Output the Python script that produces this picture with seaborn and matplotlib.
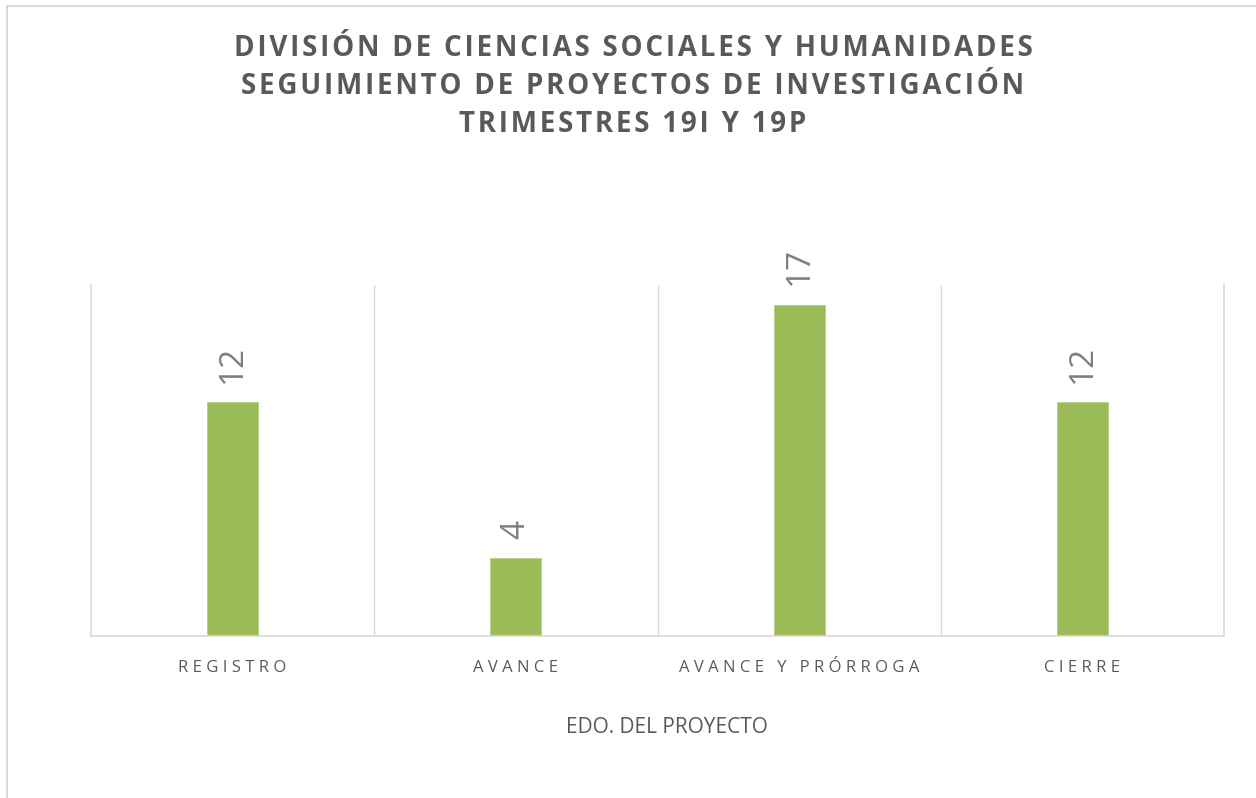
import matplotlib

matplotlib.use("Agg")

import matplotlib.pyplot as plt
import seaborn as sns
import pandas as pd
from matplotlib.patches import Rectangle


# datos
categorias = ["REGISTRO", "AVANCE", "AVANCE Y PRÓRROGA", "CIERRE"]
proyectos = [12, 4, 17, 12]
titulo = [
    "DIVISIÓN DE CIENCIAS SOCIALES Y HUMANIDADES",
    "SEGUIMIENTO DE PROYECTOS DE INVESTIGACIÓN",
    "TRIMESTRES 19I Y 19P",
]
eje_x = "EDO. DEL PROYECTO"

VERDE = "#9BBB59"
GRIS_TXT = "#595959"
GRIS_LINEA = "#d9d9d9"


def espaciar(texto, sep=" ", sep_palabra="   "):
    # simula el espaciado entre letras del original
    return sep_palabra.join(sep.join(p) for p in texto.split(" "))


def main():
    sns.set_theme(style="white")
    plt.rcParams["font.family"] = ["Open Sans", "DejaVu Sans"]

    df = pd.DataFrame({"estado": categorias, "n": proyectos})

    fig = plt.figure(figsize=(12.56, 7.98), dpi=100)
    ax = fig.add_axes([91 / 1256, 162 / 798, 1133 / 1256, 351 / 798])

    sns.barplot(data=df, x="estado", y="n", color=VERDE, width=0.18,
                saturation=1, edgecolor="#b5cf85", linewidth=0.6, ax=ax)

    ax.set_ylim(0, 18)
    ax.set_xlim(-0.5, len(categorias) - 0.5)
    ax.set_yticks([])

    # líneas verticales entre categorías
    ax.set_xticks([i + 0.5 for i in range(len(categorias) - 1)], minor=True)
    ax.grid(which="minor", axis="x", color=GRIS_LINEA, linewidth=1)
    ax.tick_params(axis="x", which="both", length=0, pad=17)

    ax.set_xticks(range(len(categorias)))
    ax.set_xticklabels([espaciar(c) for c in categorias], fontsize=12, color=GRIS_TXT)
    ax.set_xlabel(eje_x, fontsize=15, color=GRIS_TXT, labelpad=30)
    ax.xaxis.label.set_x((667 - 91) / 1133)
    ax.set_ylabel("")

    ax.spines["top"].set_visible(False)
    for s in ["left", "right", "bottom"]:
        ax.spines[s].set_color(GRIS_LINEA)
        ax.spines[s].set_linewidth(1.2)

    for cont in ax.containers:
        ax.bar_label(cont, labels=[str(v) for v in proyectos], rotation=90,
                     padding=14, fontsize=24, color="#7f7f7f")

    for i, linea in enumerate(titulo):
        fig.text(633 / 1256, 1 - (48 + 38 * i) / 798,
                 espaciar(linea, sep="\u200a", sep_palabra="\u200a \u200a"),
                 ha="center", va="center", fontsize=20, fontweight="bold",
                 color=GRIS_TXT)

    # marco del área de la gráfica
    fig.add_artist(Rectangle((7 / 1256, -0.1), 1.2, 1.1 - 6 / 798,
                             transform=fig.transFigure, fill=False,
                             edgecolor=GRIS_LINEA, linewidth=1.5))

    fig.savefig("out.png", dpi=100)
    plt.close(fig)


if __name__ == "__main__":
    main()
